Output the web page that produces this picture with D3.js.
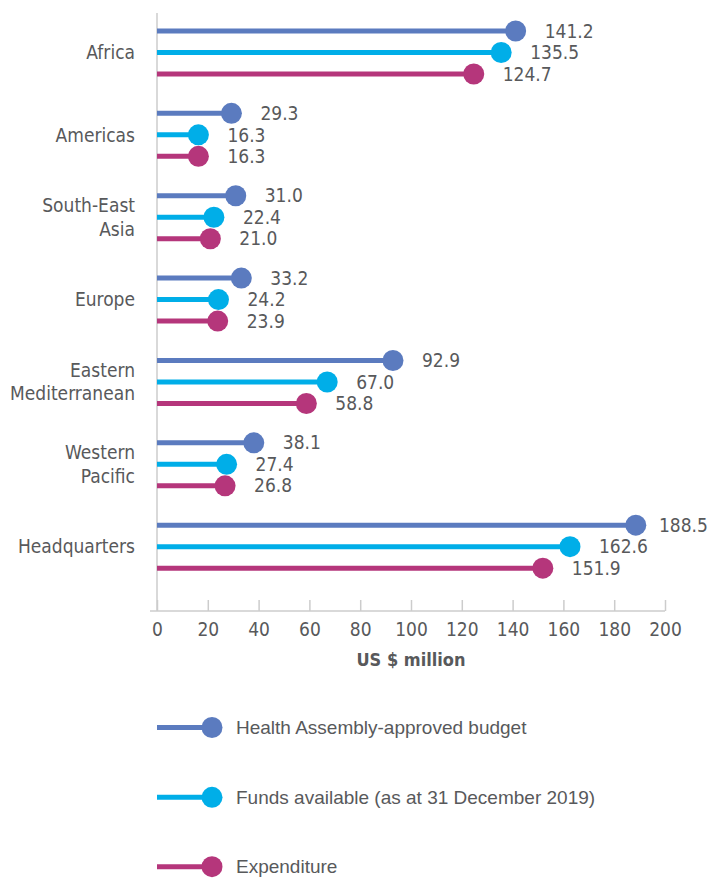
<!DOCTYPE html>
<html>
<head>
<meta charset="utf-8">
<script src="https://cdn.jsdelivr.net/npm/d3@7"></script>
<style>
  html, body { margin: 0; padding: 0; background: #ffffff; }
  svg { display: block; }
</style>
</head>
<body>
<svg id="chart" width="710" height="879"></svg>
<script>
// ---- Data ----
const categories = ["Africa", "Americas", "South-East Asia", "Europe", "Eastern Mediterranean", "Western Pacific", "Headquarters"];
const categoryLabelLines = [["Africa"], ["Americas"], ["South-East", "Asia"], ["Europe"], ["Eastern", "Mediterranean"], ["Western", "Pacific"], ["Headquarters"]];
const seriesNames = ["Health Assembly-approved budget", "Funds available (as at 31 December 2019)", "Expenditure"];
const budget      = [141.2, 29.3, 31.0, 33.2, 92.9, 38.1, 188.5];
const funds       = [135.5, 16.3, 22.4, 24.2, 67.0, 27.4, 162.6];
const expenditure = [124.7, 16.3, 21.0, 23.9, 58.8, 26.8, 151.9];
const xTickValues = [0, 20, 40, 60, 80, 100, 120, 140, 160, 180, 200];
const xAxisTitle = "US $ million";
const seriesColors = ["#5b7bbf", "#00aee8", "#b5367b"];

const seriesValues = [budget, funds, expenditure];

// ---- Layout ----
const svg = d3.select("#chart");
const textColor = "#58595b";
const axisColor = "#cccccc";
const chartFont = "'DejaVu Sans Condensed', 'DejaVu Sans', sans-serif";
const legendFont = "'Liberation Sans', Arial, sans-serif";

const x = d3.scaleLinear().domain([0, 200]).range([157, 665]);
const y = d3.scalePoint().domain(categories).range([52.5, 546.7]);
const ySub = d3.scalePoint().domain(seriesNames).range([-21.5, 21.5]);
const axisY = 611;
const r = 10.5;

// y-axis line
svg.append("line")
  .attr("x1", x(0)).attr("x2", x(0))
  .attr("y1", 13).attr("y2", axisY)
  .attr("stroke", axisColor).attr("stroke-width", 1.5);

// x axis
const xAxis = d3.axisBottom(x).tickValues(xTickValues).tickSize(-11).tickPadding(12).tickSizeOuter(0);
const gx = svg.append("g").attr("transform", `translate(0,${axisY})`).call(xAxis);
gx.select(".domain").remove();
gx.selectAll(".tick line").attr("stroke", axisColor).attr("stroke-width", 1.5);
gx.selectAll(".tick text")
  .attr("fill", textColor)
  .style("font-family", chartFont)
  .style("font-size", "19px");
gx.append("line")
  .attr("x1", 150).attr("x2", x(200))
  .attr("y1", 0).attr("y2", 0)
  .attr("stroke", axisColor).attr("stroke-width", 1.5);

svg.append("text")
  .attr("x", (x(0) + x(200)) / 2)
  .attr("y", 666)
  .attr("text-anchor", "middle")
  .attr("fill", textColor)
  .style("font-family", chartFont)
  .style("font-size", "18px")
  .style("font-weight", "bold")
  .text(xAxisTitle);

// category labels
const catG = svg.append("g");
categories.forEach((c, i) => {
  const lines = categoryLabelLines[i];
  const t = catG.append("text")
    .attr("x", 135)
    .attr("text-anchor", "end")
    .attr("fill", textColor)
    .style("font-family", chartFont)
    .style("font-size", "19px");
  lines.forEach((ln, j) => {
    t.append("tspan")
      .attr("x", 135)
      .attr("y", y(c) + (j - (lines.length - 1) / 2) * 23.5)
      .attr("dy", "0.35em")
      .text(ln);
  });
});

// lollipops
seriesNames.forEach((s, si) => {
  const vals = seriesValues[si];
  const g = svg.append("g");
  categories.forEach((c, i) => {
    const yy = y(c) + ySub(s);
    g.append("line")
      .attr("x1", x(0)).attr("x2", x(vals[i]))
      .attr("y1", yy).attr("y2", yy)
      .attr("stroke", seriesColors[si]).attr("stroke-width", 5);
    g.append("circle")
      .attr("cx", x(vals[i])).attr("cy", yy).attr("r", r)
      .attr("fill", seriesColors[si]);
    g.append("text")
      .attr("x", Math.min(x(vals[i]) + 29, 659))
      .attr("y", yy)
      .attr("dy", "0.35em")
      .attr("fill", textColor)
      .style("font-family", chartFont)
      .style("font-size", "19px")
      .text(d3.format(".1f")(vals[i]));
  });
});

// legend
const legendY = [727.5, 797.3, 866.7];
seriesNames.forEach((s, si) => {
  const g = svg.append("g").attr("transform", `translate(0,${legendY[si]})`);
  g.append("line")
    .attr("x1", 157).attr("x2", 212)
    .attr("y1", 0).attr("y2", 0)
    .attr("stroke", seriesColors[si]).attr("stroke-width", 5);
  g.append("circle").attr("cx", 212).attr("cy", 0).attr("r", r).attr("fill", seriesColors[si]);
  g.append("text")
    .attr("x", 236).attr("y", 0).attr("dy", "0.35em")
    .attr("fill", textColor)
    .style("font-family", legendFont)
    .style("font-size", "19px")
    .text(s);
});
</script>
</body>
</html>
